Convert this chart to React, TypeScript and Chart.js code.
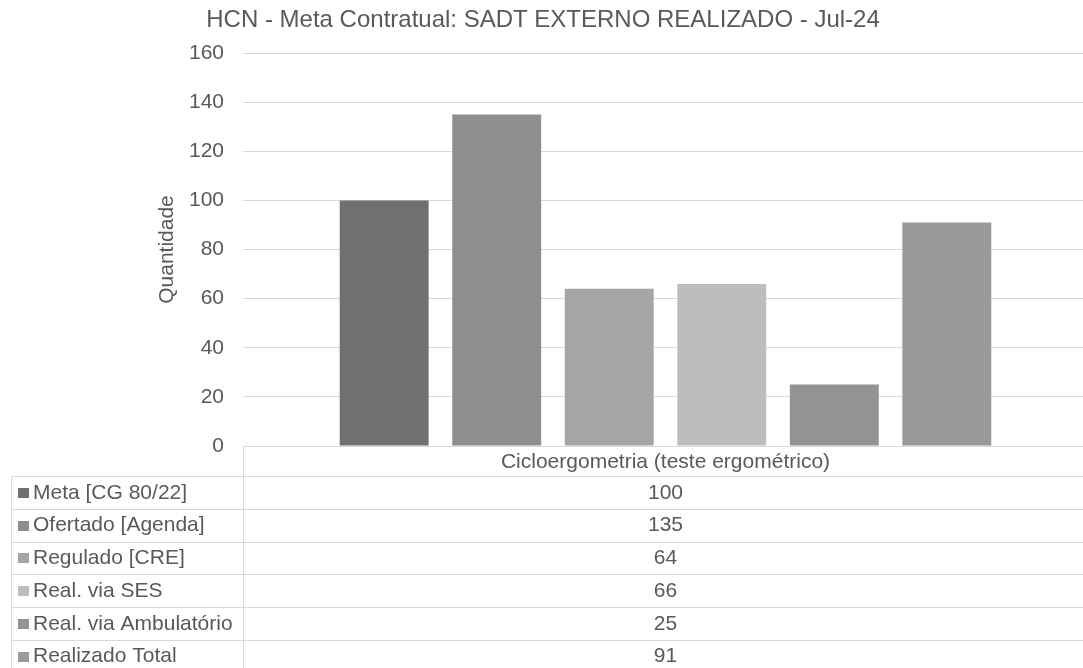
import React, { useEffect, useRef } from "react";
import { Chart, registerables } from "chart.js";

Chart.register(...registerables);

const TITLE = "HCN - Meta Contratual: SADT EXTERNO REALIZADO - Jul-24";
const Y_TITLE = "Quantidade";
const categories = ["Cicloergometria (teste ergométrico)"];
const seriesNames = [
  "Meta [CG 80/22]",
  "Ofertado [Agenda]",
  "Regulado [CRE]",
  "Real. via SES",
  "Real. via Ambulatório",
  "Realizado Total",
];
const seriesValues = [100, 135, 64, 66, 25, 91];
const seriesColors = ["#707070", "#8e8e8e", "#a5a5a5", "#bdbdbd", "#939393", "#999999"];

const FONT = '"Liberation Sans", Arial, sans-serif';
const TEXT = "#595959";
const LINE = "#d9d9d9";

export default function App() {
  const ref = useRef<HTMLCanvasElement | null>(null);

  useEffect(() => {
    const canvas = ref.current;
    if (!canvas) return;

    const widenX = {
      id: "widenX",
      afterLayout(chart: any) {
        const xs = chart.scales.x;
        xs.right = 1088;
        xs.width = xs.right - xs.left;
        xs.configure();
      },
    };

    const tablePlugin = {
      id: "tablePlugin",
      afterDraw(chart: any) {
        const ctx = chart.ctx as CanvasRenderingContext2D;
        const area = chart.chartArea;
        const xs = chart.scales.x;
        const W = chart.width;
        const H = chart.height;
        ctx.save();
        // Title
        ctx.fillStyle = TEXT;
        ctx.font = `24px ${FONT}`;
        ctx.textAlign = "center";
        ctx.textBaseline = "middle";
        ctx.fillText(TITLE, 543, 20);
        // Y axis title
        ctx.font = `21px ${FONT}`;
        ctx.save();
        ctx.translate(167, (area.top + area.bottom) / 2);
        ctx.rotate(-Math.PI / 2);
        ctx.fillText(Y_TITLE, 0, 0);
        ctx.restore();

        // Table lines
        const top = area.bottom;
        const headerH = 30;
        const rowH = 32.75;
        const leftX = 11;
        const colX = area.left;
        ctx.strokeStyle = LINE;
        ctx.lineWidth = 1;
        ctx.beginPath();
        ctx.moveTo(colX, top + 0.5);
        ctx.lineTo(W, top + 0.5);
        ctx.moveTo(colX + 0.5, top);
        ctx.lineTo(colX + 0.5, H);
        ctx.moveTo(leftX + 0.5, top + headerH);
        ctx.lineTo(leftX + 0.5, H);
        for (let i = 0; i <= seriesNames.length; i++) {
          const y = Math.round(top + headerH + i * rowH) + 0.5;
          ctx.moveTo(leftX, y);
          ctx.lineTo(W, y);
        }
        ctx.stroke();

        // Header
        const cx = xs.getPixelForValue(0);
        ctx.fillStyle = TEXT;
        ctx.textAlign = "center";
        ctx.fillText(categories[0], cx, top + headerH / 2 + 1);

        // Rows
        seriesNames.forEach((name, i) => {
          const cy = top + headerH + i * rowH + rowH / 2 + 0.5;
          ctx.fillStyle = seriesColors[i];
          ctx.fillRect(18, Math.round(cy - 5), 11, 10);
          ctx.fillStyle = TEXT;
          ctx.textAlign = "left";
          ctx.fillText(name, 33, cy);
          ctx.textAlign = "center";
          ctx.fillText(String(seriesValues[i]), cx, cy);
        });
        ctx.restore();
      },
    };

    const chart = new Chart(canvas, {
      type: "bar",
      data: {
        labels: categories,
        datasets: seriesNames.map((name, i) => ({
          label: name,
          data: [seriesValues[i]],
          backgroundColor: seriesColors[i],
          borderWidth: 0,
          barPercentage: 0.79,
          categoryPercentage: 0.799,
        })),
      },
      options: {
        responsive: false,
        animation: false,
        layout: { padding: { top: 53, left: 0, right: 0, bottom: 222 } },
        plugins: {
          legend: { display: false },
          title: { display: false },
          tooltip: { enabled: false },
        },
        scales: {
          x: { display: false },
          y: {
            min: 0,
            max: 160,
            afterFit: (scale: any) => {
              scale.width = 243;
            },
            ticks: {
              stepSize: 20,
              padding: 19,
              color: TEXT,
              font: { family: FONT, size: 21 },
            },
            grid: { color: LINE, drawTicks: false, lineWidth: 1 },
            border: { display: false },
          },
        },
      },
      plugins: [widenX, tablePlugin],
    });

    return () => chart.destroy();
  }, []);

  return (
    <div style={{ position: "fixed", left: 0, top: 0, width: 1083, height: 668, background: "#fff" }}>
      <canvas ref={ref} width={1083} height={668} style={{ display: "block" }} />
    </div>
  );
}
